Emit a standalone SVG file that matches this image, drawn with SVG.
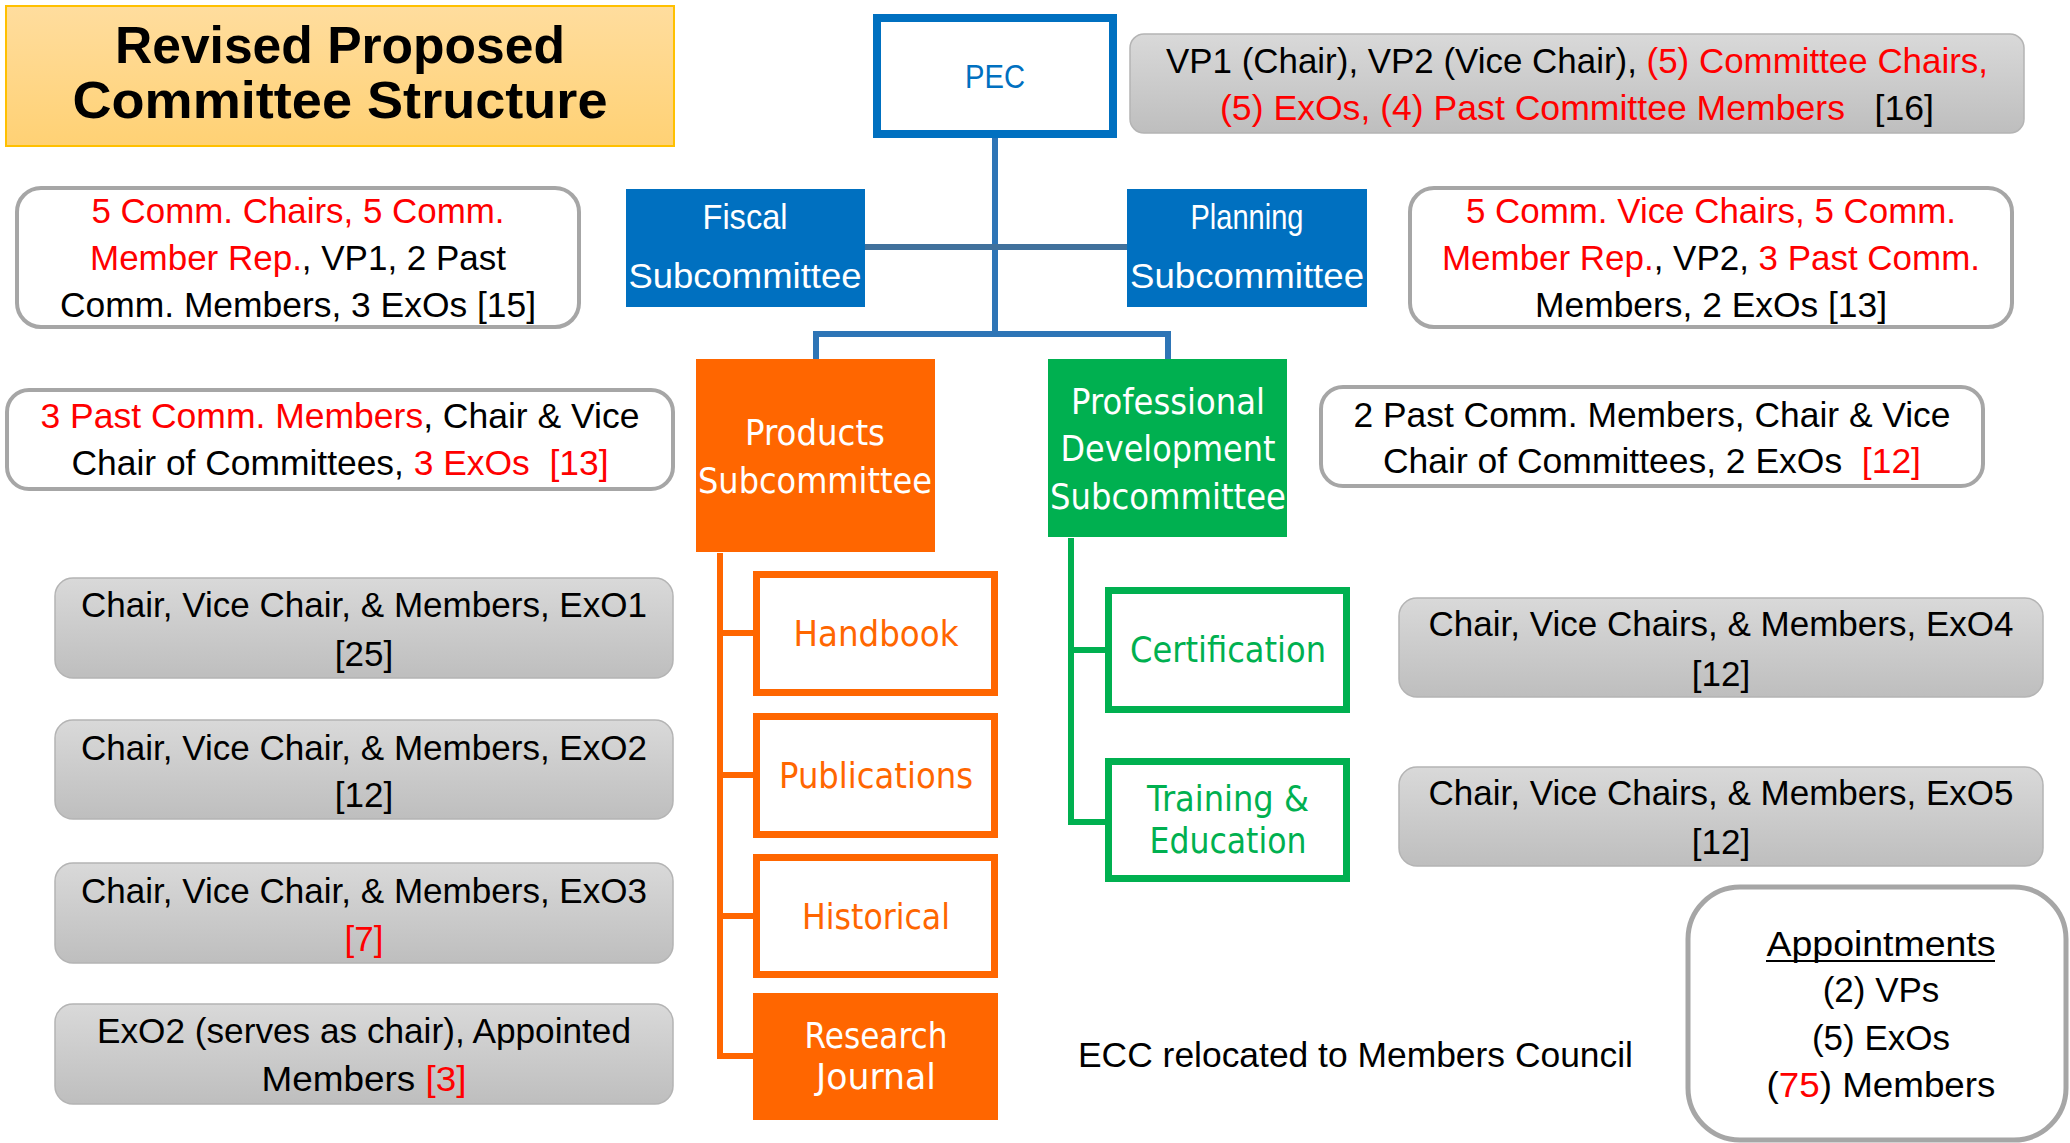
<svg xmlns="http://www.w3.org/2000/svg" width="2070" height="1143" viewBox="0 0 2070 1143">
<defs>
<linearGradient id="gGray" x1="0" y1="0" x2="0" y2="1"><stop offset="0" stop-color="#D9D9D9"/><stop offset="1" stop-color="#BEBEBE"/></linearGradient>
<linearGradient id="gTitle" x1="0" y1="0" x2="0" y2="1"><stop offset="0" stop-color="#FFDD9E"/><stop offset="1" stop-color="#FFD174"/></linearGradient>
<style>
.c{font-family:"Liberation Sans",Arial,sans-serif;font-size:35px;fill:#000;text-anchor:middle}
.t{font-family:"DejaVu Sans",Verdana,sans-serif;font-size:36px;text-anchor:middle}
.r{fill:#FF0000}
.k{fill:#000000}
.gray{fill:url(#gGray);stroke:#B4B4B4;stroke-width:1.5}
.info{fill:#FFFFFF;stroke:#A6A6A6;stroke-width:4}
.ob{fill:#FFFFFF;stroke:#FF6600;stroke-width:7}
.gb{fill:#FFFFFF;stroke:#00B050;stroke-width:7}
.conn{fill:none;stroke-width:6}
</style>
</defs>
<rect width="2070" height="1143" fill="#FFFFFF"/>

<g id="title">
<rect x="6" y="6" width="668" height="140" fill="url(#gTitle)" stroke="#FFC000" stroke-width="2"/>
<text x="340" y="63" font-family="Liberation Sans,Arial,sans-serif" font-weight="bold" font-size="52" text-anchor="middle" textLength="450" lengthAdjust="spacingAndGlyphs">Revised Proposed</text>
<text x="340" y="118" font-family="Liberation Sans,Arial,sans-serif" font-weight="bold" font-size="52" text-anchor="middle" textLength="535" lengthAdjust="spacingAndGlyphs">Committee Structure</text>
</g>

<g id="connectors">
<path class="conn" stroke="#2E75B6" d="M995,138 V334"/>
<path class="conn" stroke="#41719C" d="M865,247 H1127"/>
<path class="conn" stroke="#2E75B6" d="M816,359 V334 H1168 V359"/>
<path class="conn" stroke="#FF6600" stroke-width="7" d="M720,553 V1056 M717,633 H753 M717,775 H753 M717,916 H753 M717,1056 H753"/>
<path class="conn" stroke="#00B050" stroke-width="7" d="M1071,538 V822 M1068,650 H1106 M1068,822 H1106"/>
</g>

<g id="pec">
<rect x="877" y="18" width="236" height="116" fill="#FFFFFF" stroke="#0070C0" stroke-width="8"/>
<text x="995" y="88" font-family="Liberation Sans,Arial,sans-serif" font-size="33" fill="#0070C0" text-anchor="middle" textLength="60" lengthAdjust="spacingAndGlyphs">PEC</text>
</g>

<g id="pec-info">
<rect class="gray" x="1130" y="34" width="894" height="99" rx="14"/>
<text class="c" x="1577" y="73" textLength="822" lengthAdjust="spacingAndGlyphs"><tspan class="k">VP1 (Chair), VP2 (Vice Chair), </tspan><tspan class="r">(5) Committee Chairs,</tspan></text>
<text class="c" x="1577" y="120" textLength="714" lengthAdjust="spacingAndGlyphs" xml:space="preserve"><tspan class="r">(5) ExOs, (4) Past Committee Members</tspan><tspan class="k">   [16]</tspan></text>
</g>

<g id="fiscal">
<rect x="626" y="189" width="239" height="118" fill="#0070C0"/>
<text class="c" x="745" y="229" textLength="85" lengthAdjust="spacingAndGlyphs" style="fill:#fff">Fiscal</text>
<text class="c" x="745" y="288" textLength="233" lengthAdjust="spacingAndGlyphs" style="fill:#fff">Subcommittee</text>
</g>

<g id="planning">
<rect x="1127" y="189" width="240" height="118" fill="#0070C0"/>
<text class="c" x="1247" y="229" textLength="113" lengthAdjust="spacingAndGlyphs" style="fill:#fff">Planning</text>
<text class="c" x="1247" y="288" textLength="234" lengthAdjust="spacingAndGlyphs" style="fill:#fff">Subcommittee</text>
</g>

<g id="fiscal-info">
<rect class="info" x="17" y="188" width="562" height="139" rx="24"/>
<text class="c" x="298" y="223" textLength="413" lengthAdjust="spacingAndGlyphs" style="fill:#FF0000">5 Comm. Chairs, 5 Comm.</text>
<text class="c" x="298" y="270" textLength="416" lengthAdjust="spacingAndGlyphs"><tspan class="r">Member Rep.</tspan><tspan class="k">, VP1, 2 Past</tspan></text>
<text class="c" x="298" y="317" textLength="476" lengthAdjust="spacingAndGlyphs">Comm. Members, 3 ExOs [15]</text>
</g>

<g id="planning-info">
<rect class="info" x="1410" y="188" width="602" height="139" rx="24"/>
<text class="c" x="1711" y="223" textLength="490" lengthAdjust="spacingAndGlyphs" style="fill:#FF0000">5 Comm. Vice Chairs, 5 Comm.</text>
<text class="c" x="1711" y="270" textLength="538" lengthAdjust="spacingAndGlyphs"><tspan class="r">Member Rep.</tspan><tspan class="k">, VP2, </tspan><tspan class="r">3 Past Comm.</tspan></text>
<text class="c" x="1711" y="317" textLength="352" lengthAdjust="spacingAndGlyphs">Members, 2 ExOs [13]</text>
</g>

<g id="products">
<rect x="696" y="359" width="239" height="193" fill="#FF6600"/>
<text class="t" x="815" y="445" textLength="140" lengthAdjust="spacingAndGlyphs" fill="#FFFFFF">Products</text>
<text class="t" x="815" y="493" textLength="234" lengthAdjust="spacingAndGlyphs" fill="#FFFFFF">Subcommittee</text>
</g>

<g id="profdev">
<rect x="1048" y="359" width="239" height="178" fill="#00B050"/>
<text class="t" x="1168" y="414" textLength="194" lengthAdjust="spacingAndGlyphs" fill="#FFFFFF">Professional</text>
<text class="t" x="1168" y="461" textLength="215" lengthAdjust="spacingAndGlyphs" fill="#FFFFFF">Development</text>
<text class="t" x="1168" y="509" textLength="236" lengthAdjust="spacingAndGlyphs" fill="#FFFFFF">Subcommittee</text>
</g>

<g id="products-info">
<rect class="info" x="7" y="390" width="666" height="99" rx="22"/>
<text class="c" x="340" y="428" textLength="599" lengthAdjust="spacingAndGlyphs"><tspan class="r">3 Past Comm. Members</tspan><tspan class="k">, Chair &amp; Vice</tspan></text>
<text class="c" x="340" y="475" textLength="537" lengthAdjust="spacingAndGlyphs" xml:space="preserve"><tspan class="k">Chair of Committees, </tspan><tspan class="r">3 ExOs  [13]</tspan></text>
</g>

<g id="profdev-info">
<rect class="info" x="1321" y="387" width="662" height="99" rx="22"/>
<text class="c" x="1652" y="427" textLength="597" lengthAdjust="spacingAndGlyphs">2 Past Comm. Members, Chair &amp; Vice</text>
<text class="c" x="1652" y="473" textLength="538" lengthAdjust="spacingAndGlyphs" xml:space="preserve"><tspan class="k">Chair of Committees, 2 ExOs  </tspan><tspan class="r">[12]</tspan></text>
</g>

<g id="handbook">
<rect class="ob" x="756.5" y="574.5" width="238" height="118"/>
<text class="t" x="876" y="646" textLength="165" lengthAdjust="spacingAndGlyphs" fill="#FF6600">Handbook</text>
</g>
<g id="publications">
<rect class="ob" x="756.5" y="716.5" width="238" height="118"/>
<text class="t" x="876" y="788" textLength="194" lengthAdjust="spacingAndGlyphs" fill="#FF6600">Publications</text>
</g>
<g id="historical">
<rect class="ob" x="756.5" y="857.5" width="238" height="117"/>
<text class="t" x="876" y="929" textLength="148" lengthAdjust="spacingAndGlyphs" fill="#FF6600">Historical</text>
</g>
<g id="research-journal">
<rect x="753" y="993" width="245" height="127" fill="#FF6600"/>
<text class="t" x="876" y="1048" textLength="143" lengthAdjust="spacingAndGlyphs" fill="#FFFFFF">Research</text>
<text class="t" x="876" y="1089" textLength="120" lengthAdjust="spacingAndGlyphs" fill="#FFFFFF">Journal</text>
</g>

<g id="certification">
<rect class="gb" x="1108.5" y="590.5" width="238" height="119"/>
<text class="t" x="1228" y="662" textLength="196" lengthAdjust="spacingAndGlyphs" fill="#00B050">Certification</text>
</g>
<g id="training">
<rect class="gb" x="1108.5" y="761.5" width="238" height="117"/>
<text class="t" x="1228" y="811" textLength="162" lengthAdjust="spacingAndGlyphs" fill="#00B050">Training &amp;</text>
<text class="t" x="1228" y="853" textLength="157" lengthAdjust="spacingAndGlyphs" fill="#00B050">Education</text>
</g>

<g id="handbook-info">
<rect class="gray" x="55" y="578" width="618" height="100" rx="18"/>
<text class="c" x="364" y="617" textLength="566" lengthAdjust="spacingAndGlyphs">Chair, Vice Chair, &amp; Members, ExO1</text>
<text class="c" x="364" y="666">[25]</text>
</g>
<g id="publications-info">
<rect class="gray" x="55" y="720" width="618" height="99" rx="18"/>
<text class="c" x="364" y="760" textLength="566" lengthAdjust="spacingAndGlyphs">Chair, Vice Chair, &amp; Members, ExO2</text>
<text class="c" x="364" y="807">[12]</text>
</g>
<g id="historical-info">
<rect class="gray" x="55" y="863" width="618" height="100" rx="18"/>
<text class="c" x="364" y="903" textLength="566" lengthAdjust="spacingAndGlyphs">Chair, Vice Chair, &amp; Members, ExO3</text>
<text class="c" x="364" y="951" style="fill:#FF0000">[7]</text>
</g>
<g id="journal-info">
<rect class="gray" x="55" y="1004" width="618" height="100" rx="18"/>
<text class="c" x="364" y="1043" textLength="534" lengthAdjust="spacingAndGlyphs">ExO2 (serves as chair), Appointed</text>
<text class="c" x="364" y="1091" textLength="205" lengthAdjust="spacingAndGlyphs"><tspan class="k">Members </tspan><tspan class="r">[3]</tspan></text>
</g>

<g id="certification-info">
<rect class="gray" x="1399" y="598" width="644" height="99" rx="18"/>
<text class="c" x="1721" y="636" textLength="585" lengthAdjust="spacingAndGlyphs">Chair, Vice Chairs, &amp; Members, ExO4</text>
<text class="c" x="1721" y="686">[12]</text>
</g>
<g id="training-info">
<rect class="gray" x="1399" y="767" width="644" height="99" rx="18"/>
<text class="c" x="1721" y="805" textLength="585" lengthAdjust="spacingAndGlyphs">Chair, Vice Chairs, &amp; Members, ExO5</text>
<text class="c" x="1721" y="854">[12]</text>
</g>

<g id="ecc-note">
<text x="1078" y="1067" font-family="Liberation Sans,Arial,sans-serif" font-size="35" fill="#000" textLength="555" lengthAdjust="spacingAndGlyphs">ECC relocated to Members Council</text>
</g>

<g id="appointments">
<rect x="1688" y="887" width="378" height="253" rx="52" fill="#FFFFFF" stroke="#A6A6A6" stroke-width="5"/>
<text class="c" x="1881" y="956" textLength="229" lengthAdjust="spacingAndGlyphs">Appointments</text>
<line x1="1766" y1="961" x2="1995" y2="961" stroke="#000" stroke-width="2"/>
<text class="c" x="1881" y="1002">(2) VPs</text>
<text class="c" x="1881" y="1050">(5) ExOs</text>
<text class="c" x="1881" y="1097" textLength="229" lengthAdjust="spacingAndGlyphs"><tspan class="k">(</tspan><tspan class="r">75</tspan><tspan class="k">) Members</tspan></text>
</g>
</svg>
